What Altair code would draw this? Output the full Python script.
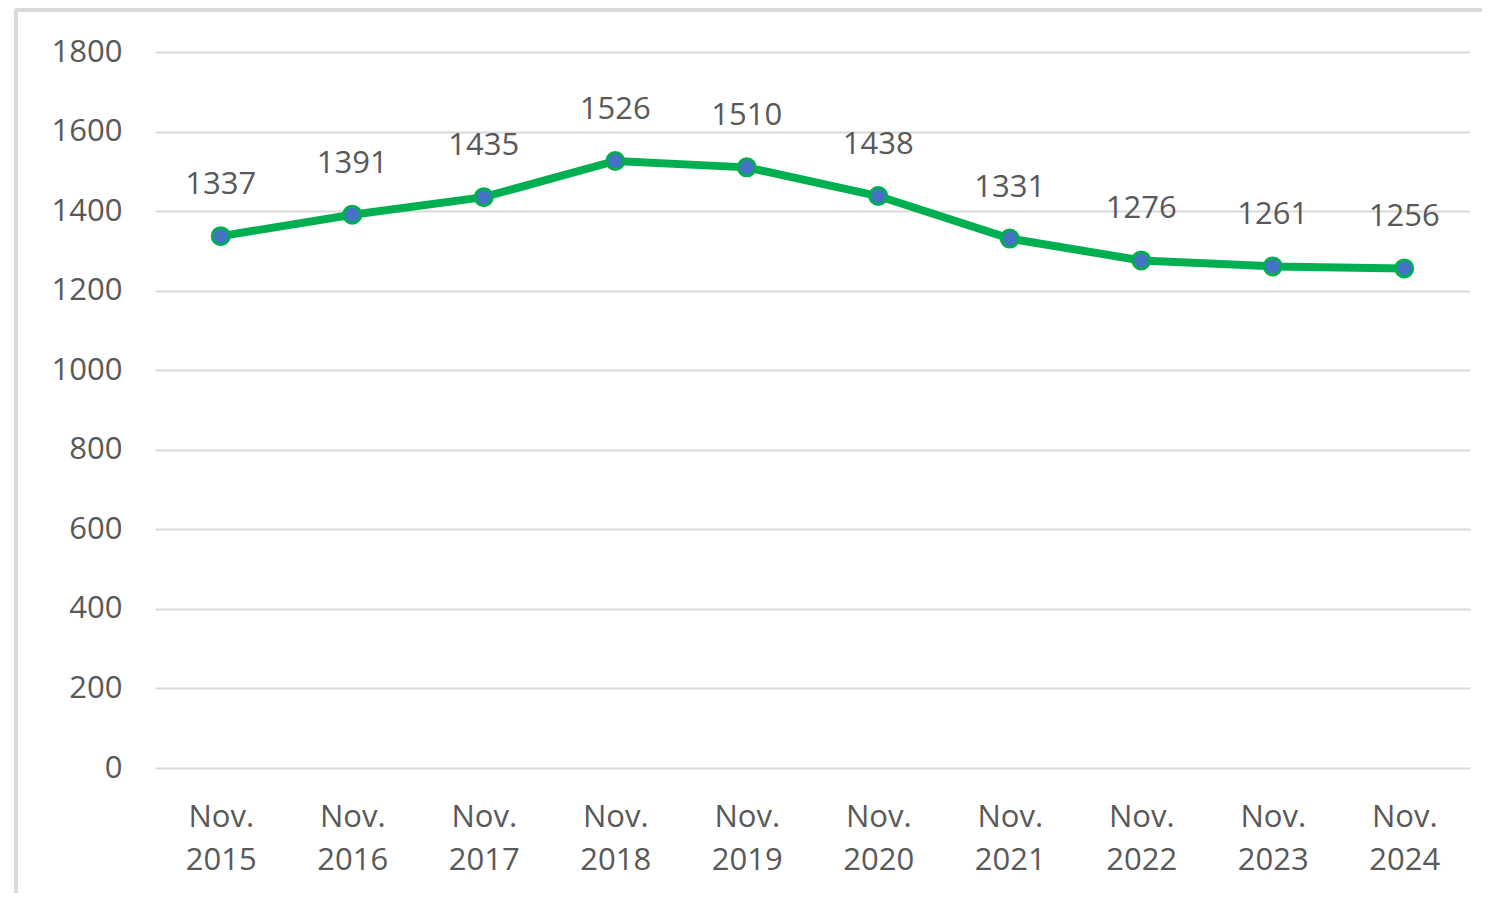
import altair as alt
import pandas as pd

months = ["Nov. 2015", "Nov. 2016", "Nov. 2017", "Nov. 2018", "Nov. 2019",
          "Nov. 2020", "Nov. 2021", "Nov. 2022", "Nov. 2023", "Nov. 2024"]
values = [1337, 1391, 1435, 1526, 1510, 1438, 1331, 1276, 1261, 1256]
y_ticks = [0, 200, 400, 600, 800, 1000, 1200, 1400, 1600, 1800]

df = pd.DataFrame({"month": months, "value": values})

FONT = "Open Sans"
TXT = "#595959"

x_enc = alt.X("month:N", sort=months,
              scale=alt.Scale(type="point", padding=0.5),
              axis=alt.Axis(title=None, domain=False, ticks=False, grid=False,
                            labelAngle=0, labelFont=FONT, labelFontSize=31,
                            labelColor=TXT, labelPadding=34, labelLineHeight=43,
                            labelBaseline="top",
                            labelExpr="split(datum.label, ' ')"))
y_enc = alt.Y("value:Q", scale=alt.Scale(domain=[0, 1800], nice=False),
              axis=alt.Axis(title=None, domain=False, ticks=False, values=y_ticks,
                            format="d",
                            grid=True, gridColor="#D9D9D9", gridWidth=2,
                            labelFont=FONT, labelFontSize=31, labelColor=TXT,
                            labelPadding=33))

base = alt.Chart(df)

line = base.mark_line(color="#00B050", strokeWidth=8).encode(x=x_enc, y=y_enc)
pts = base.mark_point(filled=True, fill="#4472C4", stroke="#00B050",
                      strokeWidth=3, size=290, opacity=1).encode(x=x_enc, y=y_enc)
labels = base.mark_text(font=FONT, fontSize=31, color=TXT, dy=-51,
                        baseline="middle").encode(x=x_enc, y=y_enc,
                                                  text=alt.Text("value:Q"))

border_top = base.mark_rule(color="#D9D9D9", strokeWidth=3).encode(
    x=alt.value(-140), x2=alt.value(1400), y=alt.value(-42))
border_left = base.mark_rule(color="#D9D9D9", strokeWidth=3).encode(
    x=alt.value(-139), y=alt.value(-42), y2=alt.value(900))

chart = alt.layer(border_top, border_left, line, pts, labels).properties(
    width=1315, height=716,
    autosize=alt.AutoSizeParams(type="none"),
    padding={"left": 147, "top": 44, "right": 12, "bottom": 125},
).configure(background="white").configure_view(stroke=None)

chart.save("out.html", embed_options={"renderer": "svg", "actions": False})
